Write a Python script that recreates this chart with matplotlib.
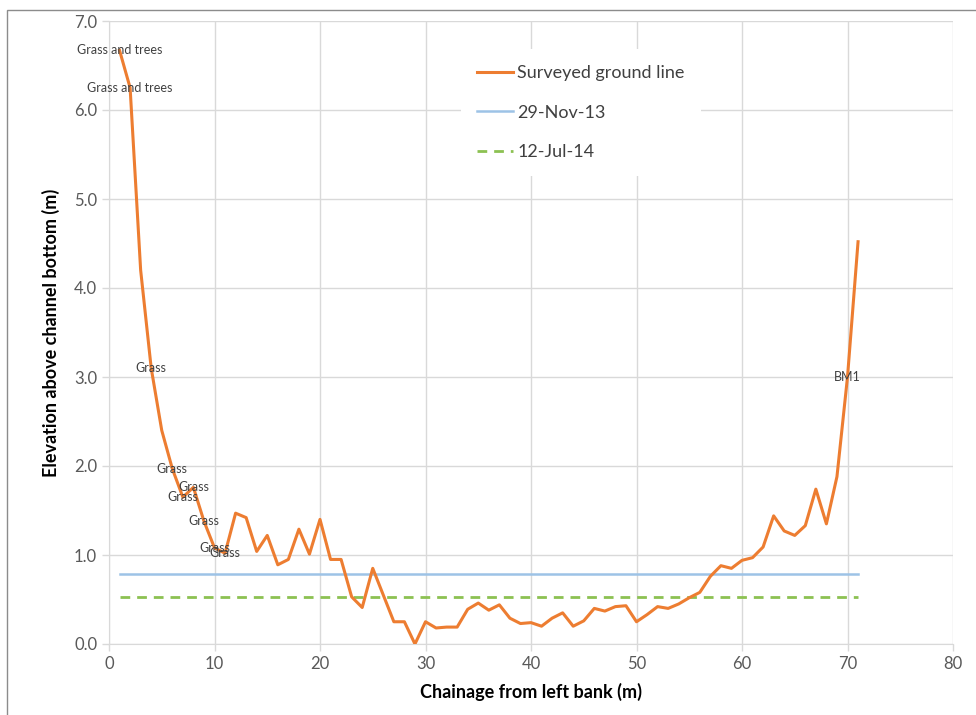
import matplotlib
matplotlib.use("Agg")
import matplotlib.pyplot as plt
from matplotlib.patches import Rectangle

plt.rcParams['font.family'] = ['Lato', 'DejaVu Sans']

# surveyed cross-section, chainage in metres from the left bank
chainage = list(range(1, 72))
ground = [6.67, 6.25, 4.20, 3.10, 2.40, 1.97, 1.65, 1.76, 1.38, 1.08,
          1.02, 1.47, 1.42, 1.04, 1.22, 0.89, 0.95, 1.29, 1.01, 1.40,
          0.95, 0.95, 0.53, 0.41, 0.85, 0.55, 0.25, 0.25, 0.00, 0.25,
          0.18, 0.19, 0.19, 0.39, 0.46, 0.38, 0.44, 0.29, 0.23, 0.24,
          0.20, 0.29, 0.35, 0.20, 0.26, 0.40, 0.37, 0.42, 0.43, 0.25,
          0.33, 0.42, 0.40, 0.45, 0.52, 0.58, 0.76, 0.88, 0.85, 0.94,
          0.97, 1.09, 1.44, 1.27, 1.22, 1.33, 1.74, 1.35, 1.88, 3.00,
          4.52]

# water levels on the two survey dates
level_nov13 = 0.79
level_jul14 = 0.53

# point descriptions (chainage -> note)
notes = {1: 'Grass and trees', 2: 'Grass and trees', 4: 'Grass', 6: 'Grass',
         7: 'Grass', 8: 'Grass', 9: 'Grass', 10: 'Grass', 11: 'Grass',
         70: 'BM1'}

fig = plt.figure(figsize=(9.76, 7.15), dpi=100)
ax = fig.add_axes([109/976, 1 - 644/715, 844/976, 623/715])

ax.plot(chainage, ground, color='#ED7D31', lw=2.2, label='Surveyed ground line', zorder=3)
ax.plot([chainage[0], chainage[-1]], [level_nov13] * 2, color='#9DC3E6', lw=1.8,
        label='29-Nov-13', zorder=2)
ax.plot([chainage[0], chainage[-1]], [level_jul14] * 2, color='#8CC152', lw=2,
        ls=(0, (3.5, 2.5)), label='12-Jul-14', zorder=2)

for c, txt in notes.items():
    ax.text(c, ground[c - 1], txt, ha='center', va='center', fontsize=9,
            color='#404040', zorder=4)

ax.set_xlim(0, 80)
ax.set_ylim(0, 7)
ax.set_xticks(range(0, 81, 10))
ax.set_yticks([i * 1.0 for i in range(8)])
ax.set_yticklabels([f'{i:.1f}' for i in range(8)])
ax.grid(True, color='#D9D9D9', lw=1)
ax.set_axisbelow(True)
for s in ax.spines.values():
    s.set_visible(False)
ax.spines['left'].set_visible(True)
ax.spines['bottom'].set_visible(True)
ax.spines['left'].set_color('#D9D9D9')
ax.spines['bottom'].set_color('#D9D9D9')
ax.tick_params(colors='#D9D9D9', labelcolor='#595959', labelsize=12, length=5, width=1)

ax.set_xlabel('Chainage from left bank (m)', fontsize=13, fontweight='bold',
              color='#000000', labelpad=8)
ax.set_ylabel('Elevation above channel bottom (m)', fontsize=13, fontweight='bold',
              color='#000000', labelpad=10)

leg = ax.legend(loc='upper left', bbox_to_anchor=(452/976, 1 - 40/715),
                bbox_transform=fig.transFigure, fontsize=13, frameon=True,
                facecolor='white', edgecolor='none', framealpha=1, fancybox=False,
                handlelength=2.0, handletextpad=0.22, labelspacing=1.29,
                borderpad=0.9)
for t in leg.get_texts():
    t.set_color('#404040')

# chart area border
fig.patches.append(Rectangle((7/976, -0.05), 1.1, 1 - 10/715 + 0.05,
                             transform=fig.transFigure, fill=False,
                             edgecolor='#8C8C8C', lw=1))

fig.savefig('out.png', dpi=100)
